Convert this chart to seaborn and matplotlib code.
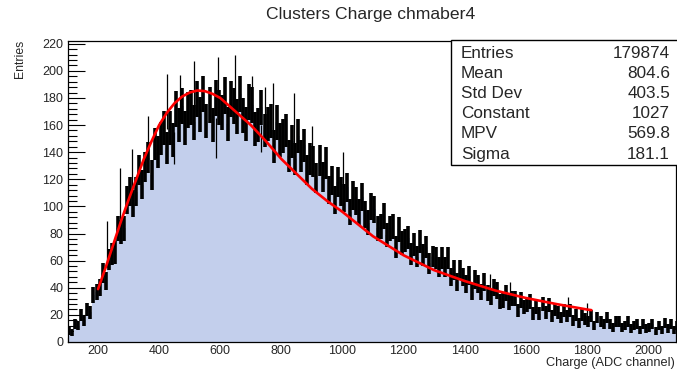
import numpy as np
import pandas as pd
import matplotlib
matplotlib.use("Agg")
import matplotlib.pyplot as plt
from matplotlib.patches import Rectangle
from matplotlib.ticker import MultipleLocator
import seaborn as sns

# ---------------- data ----------------
bin_start = 100
bin_width = 10
counts = [
    8, 7, 13, 12, 20, 16, 24, 22, 35, 37,
    40, 51, 45, 61, 65, 66, 84, 81, 84, 105,
    111, 102, 111, 127, 116, 129, 136, 123, 146, 140,
    150, 158, 143, 158, 149, 172, 160, 174, 158, 171,
    173, 162, 179, 168, 183, 163, 175, 160, 180, 173,
    169, 182, 161, 179, 174, 166, 183, 167, 161, 177,
    175, 157, 160, 173, 156, 161, 163, 144, 162, 149,
    152, 156, 137, 148, 135, 152, 137, 145, 127, 135,
    133, 121, 134, 122, 132, 112, 119, 105, 118, 111,
    106, 114, 96, 108, 104, 96, 107, 94, 88, 100,
    98, 84, 85, 93, 79, 84, 85, 70, 83, 73,
    75, 77, 65, 72, 63, 74, 64, 70, 58, 63,
    62, 55, 62, 55, 62, 48, 53, 44, 53, 48,
    43, 49, 37, 46, 43, 37, 44, 36, 33, 40,
    38, 30, 31, 36, 29, 32, 32, 23, 31, 26,
    27, 30, 21, 26, 21, 28, 22, 27, 19, 24,
    22, 18, 23, 19, 23, 16, 20, 14, 20, 17,
    15, 19, 12, 18, 15, 13, 18, 13, 11, 15,
    15, 11, 12, 15, 10, 12, 13, 9, 13, 10,
    11, 13, 8, 12, 9, 14, 10, 13, 9, 12,
]

# isolated tall fluctuations visible in the picture
spike_x = [228, 272, 310, 364, 425, 468, 514, 594, 649, 703, 746, 773, 843, 899, 1001, 1182, 1482, 1548, 1737, 1800]
spike_lo = [55, 85, 110, 135, 157, 163, 170, 175, 172, 167, 160, 156, 145, 134, 113, 83, 38, 31, 19, 17]
spike_hi = [89, 128, 142, 167, 198, 197, 207, 210, 212, 196, 188, 191, 184, 159, 140, 90, 50, 44, 33, 29]
dip_x = [448, 586, 735]
dip_lo = [131, 136, 140]
dip_hi = [155, 165, 160]

# Landau fit curve
fit_x = [200, 225, 250, 275, 300, 325, 350, 375, 400, 425, 450, 475, 500, 525, 550,
         575, 600, 650, 700, 750, 800, 850, 900, 950, 1000, 1100, 1200, 1300, 1400,
         1500, 1600, 1700, 1800, 1815]
fit_y = [39, 55, 72, 89, 105, 120, 135, 148, 160, 169, 176, 181, 184, 185.5, 185,
         183, 180, 170, 160, 148, 135, 124, 113, 104, 96, 78, 64, 53, 45,
         38, 32.5, 28, 24, 23.5]

title = "Clusters Charge chmaber4"
xlabel = "Charge (ADC channel)"
ylabel = "Entries"
stat_names = ["Entries", "Mean", "Std Dev", "Constant", "MPV", "Sigma"]
stat_values = ["179874", "804.6", "403.5", "1027", "569.8", "181.1"]

# ---------------- figure ----------------
sns.set_style("ticks")
plt.rcParams["font.family"] = ["Liberation Sans", "DejaVu Sans"]

W, H = 677, 372
fig = plt.figure(figsize=(W / 100, H / 100), dpi=100)
ax = fig.add_axes([67.5 / W, (H - 342) / H, (676 - 67.5) / W, (342 - 41) / H])

nb = len(counts)
centers = bin_start + bin_width * np.arange(nb) + bin_width / 2
df = pd.DataFrame({"charge": centers, "count": np.asarray(counts, dtype=float)})

sns.histplot(data=df, x="charge", weights="count", binwidth=bin_width,
             binrange=(bin_start, bin_start + bin_width * nb), element="step",
             fill=True, color="#c3cfec", alpha=1.0, linewidth=0, ax=ax, zorder=1)

ax.errorbar(df["charge"], df["count"], yerr=np.sqrt(df["count"]), fmt="none",
            ecolor="black", elinewidth=2.6, capsize=0, zorder=2)
ax.vlines(spike_x, spike_lo, spike_hi, color="black", lw=0.9, zorder=2)
ax.vlines(dip_x, dip_lo, dip_hi, color="black", lw=0.9, zorder=2)

sns.lineplot(x=fit_x, y=fit_y, color="#ff0000", lw=1.9, ax=ax, zorder=3)

ax.set_xlim(100, 2092)
ax.set_ylim(0, 222)
ax.set_xlabel("")
ax.set_ylabel("")

ax.xaxis.set_major_locator(MultipleLocator(200))
ax.xaxis.set_minor_locator(MultipleLocator(50))
ax.yaxis.set_major_locator(MultipleLocator(20))
ax.yaxis.set_minor_locator(MultipleLocator(4))
ax.tick_params(axis="both", which="both", direction="in", color="black",
               labelsize=9, width=0.8)
ax.tick_params(axis="y", which="major", length=12.5, pad=3)
ax.tick_params(axis="y", which="minor", length=6.3)
ax.tick_params(axis="x", which="major", length=7, pad=2.5)
ax.tick_params(axis="x", which="minor", length=3.5)
for s in ax.spines.values():
    s.set_visible(True)
    s.set_color("black")
    s.set_linewidth(0.9)

# texts
fig.text(371 / W, 1 - 15 / H, title, ha="center", va="center", fontsize=12.6)
fig.text(675 / W, 1 - 363 / H, xlabel, ha="right", va="center", fontsize=9.2)
fig.text(20 / W, 1 - 40 / H, ylabel, ha="center", va="top", rotation=90, fontsize=8.8)

# stats box
box = Rectangle((451 / W, 1 - 165 / H), (690 - 451) / W, (165 - 40) / H,
                transform=fig.transFigure, facecolor="white", edgecolor="black",
                lw=1.0, zorder=10)
fig.add_artist(box)
row_y = [53, 73, 93.5, 113.5, 134, 154]
for name, val, yy in zip(stat_names, stat_values, row_y):
    fig.text(461 / W, 1 - yy / H, name, ha="left", va="center", fontsize=12.3, zorder=11)
    fig.text(670 / W, 1 - yy / H, val, ha="right", va="center", fontsize=12.3, zorder=11)

fig.savefig("out.png", dpi=100, facecolor="white")
